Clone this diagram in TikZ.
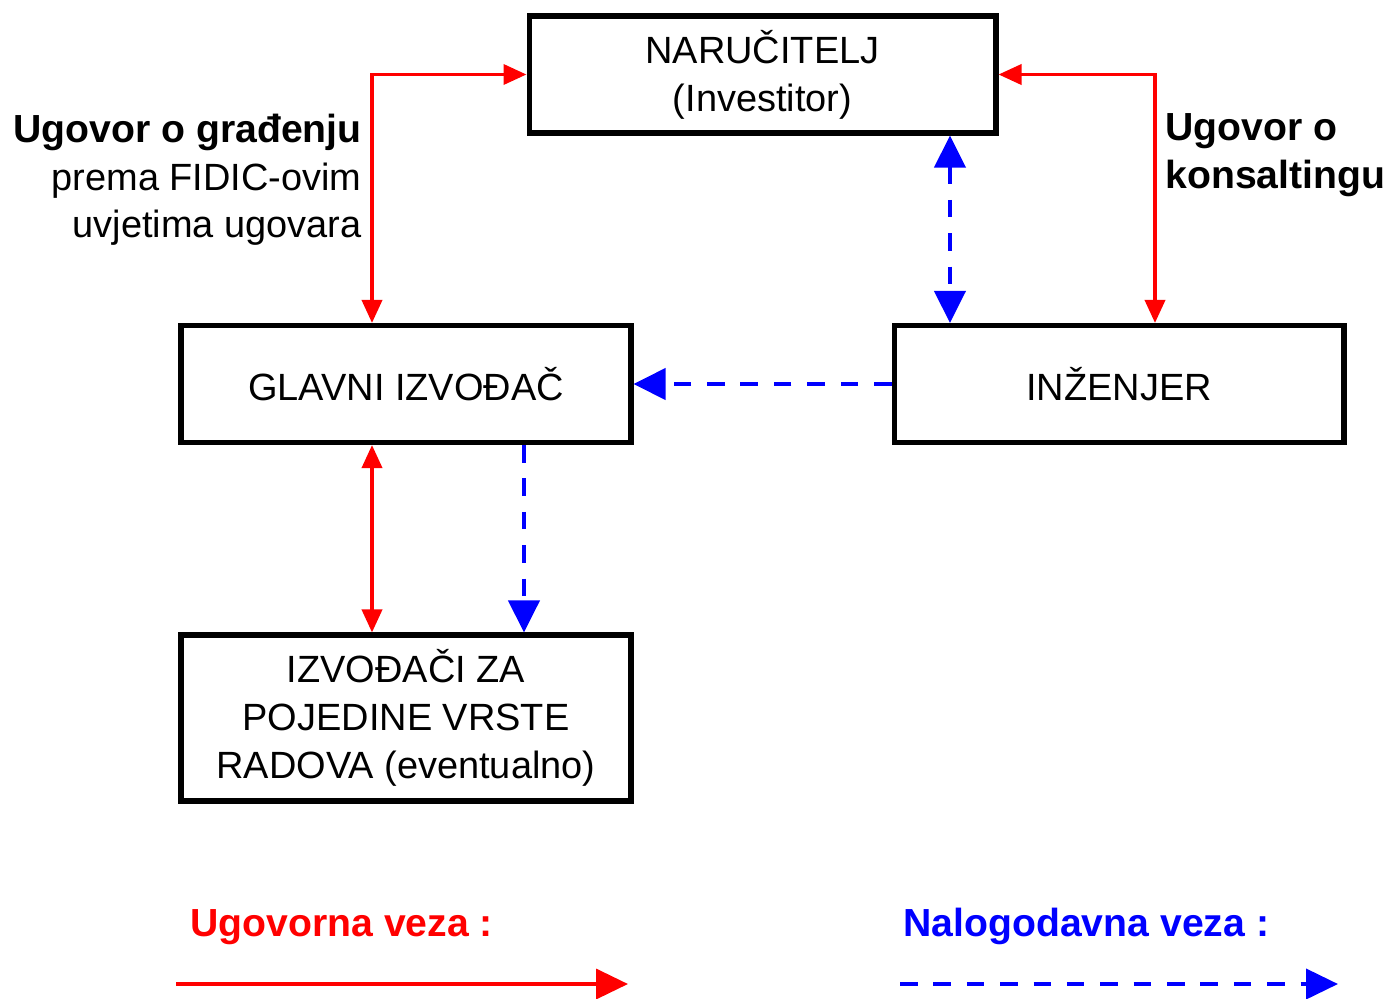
\documentclass[tikz,border=0pt]{standalone}
\usepackage{fontspec}
\setmainfont{Liberation Sans}
\usetikzlibrary{arrows.meta,positioning}

\begin{document}
\begin{tikzpicture}[
    x=0.02cm, y=-0.02cm,
    every node/.style={font=\fontsize{21.6}{27.2}\selectfont},
    block/.style={
        rectangle,
        draw,
        line width=2.9pt,
        align=center,
        minimum width=9cm,
        minimum height=2.34cm,
        inner sep=0pt
    },
    label/.style={inner sep=0pt, font=\fontsize{22.3}{27}\selectfont},
    contract/.style={draw=red, line width=2.1pt, >={Triangle[length=0.46cm,width=0.4cm]}},
    order/.style={draw=blue, line width=2.3pt, dash pattern=on 10pt off 9pt,
        >={Triangle[length=0.64cm,width=0.62cm]}},
    legendtip/.style={>={Triangle[length=0.64cm,width=0.6cm]}}
]
\useasboundingbox (0,0) rectangle (1386,998);

% Nodes
\node[block, minimum width=9.34cm] (narucitelj) at (762.5,74.5) {NARUČITELJ\\(Investitor)};
\node[block] (glavni) at (406,384) {GLAVNI IZVOĐAČ};
\node[block] (inzenjer) at (1119,384) {INŽENJER};
\node[block, minimum height=3.32cm] (izvodaci) at (406,718)
{IZVOĐAČI ZA\\POJEDINE VRSTE\\RADOVA (eventualno)};

\node[label, align=right, anchor=east] (gradjenje) at (362,180)
{\bfseries Ugovor o građenju\\\fontsize{21.6}{27}\selectfont prema FIDIC-ovim\\\fontsize{21.6}{27}\selectfont uvjetima ugovara};
\node[label, align=left, anchor=west] (konsalting) at (1165,155)
{\bfseries Ugovor o\\\bfseries konsaltingu};

% Legend
\node[label, anchor=base west, text=red, font=\fontsize{22.3}{27}\selectfont\bfseries] (ugovorna) at (190,936) {Ugovorna veza :};
\node[label, anchor=base west, text=blue, font=\fontsize{22.3}{27}\selectfont\bfseries] (nalog) at (903,936) {Nalogodavna veza :};
\coordinate (ua) at (176,984);
\coordinate (ub) at (628,984);
\coordinate (na) at (900,984);
\coordinate (nb) at (1338,984);

% Arrows
\draw[contract, <->] ([xshift=-0.68cm]glavni.north) |- (narucitelj.west);
\draw[contract, <->] (narucitelj.east) -| ([xshift=0.72cm]inzenjer.north);
\draw[contract, <->] ([xshift=-0.68cm]glavni.south) -- ([xshift=-0.68cm]izvodaci.north);

\draw[order, <->] ([xshift=3.75cm]narucitelj.south) -- ([xshift=3.75cm]narucitelj.south |- inzenjer.north);
\draw[order, ->] (inzenjer.west) -- (glavni.east);
\draw[order, ->] ([xshift=2.36cm]glavni.south) -- ([xshift=2.36cm]izvodaci.north);

\draw[contract, legendtip, ->] (ua) -- (ub);
\draw[order, legendtip, ->] (na) -- (nb);

\end{tikzpicture}
\end{document}
